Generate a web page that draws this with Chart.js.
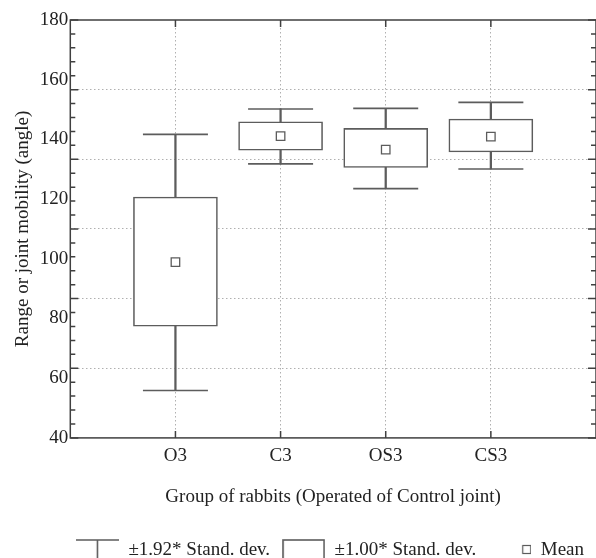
<!DOCTYPE html>
<html>
<head>
<meta charset="utf-8">
<script src="https://cdn.jsdelivr.net/npm/chart.js@4.4.0/dist/chart.umd.min.js"></script>
<style>
  html, body { margin: 0; padding: 0; background: #fff; }
  #contenedor { width: 596px; height: 558px; }
</style>
</head>
<body>
<div id="contenedor"><canvas id="grafico"></canvas></div>
<script>
// Datos (ángulo en grados)
const grupos = ['O3', 'C3', 'OS3', 'CS3'];
const medias = [98.9, 141.1, 136.6, 140.9];
const cajaInf = [77.4, 136.4, 130.6, 135.8];    // media - 1.00*DE
const cajaSup = [120.7, 145.9, 143.7, 146.8];   // media + 1.00*DE
const bigoteInf = [55.9, 131.8, 123.5, 130.1];  // media - 1.92*DE
const bigoteSup = [141.7, 150.2, 150.4, 152.4]; // media + 1.92*DE
const etiquetasY = [40, 60, 80, 100, 120, 140, 160, 180];

const FUENTE = "'Liberation Serif', 'Times New Roman', serif";
const GRIS = '#5c5c5c';
const MARCO = '#404040';

// Iconos para la leyenda
function iconoBigote() {
    const c = document.createElement('canvas');
    c.width = 43; c.height = 24;
    const g = c.getContext('2d');
    g.strokeStyle = GRIS; g.lineWidth = 1.6;
    g.beginPath();
    g.moveTo(0, 2); g.lineTo(43, 2);
    g.moveTo(21.5, 2); g.lineTo(21.5, 24);
    g.stroke();
    return c;
}
function iconoCaja() {
    const c = document.createElement('canvas');
    c.width = 43; c.height = 24;
    const g = c.getContext('2d');
    g.strokeStyle = GRIS; g.lineWidth = 1.6;
    g.strokeRect(1, 2, 41, 23);
    return c;
}
function iconoMedia() {
    const c = document.createElement('canvas');
    c.width = 43; c.height = 24;
    const g = c.getContext('2d');
    g.strokeStyle = GRIS; g.lineWidth = 1.2;
    g.strokeRect(34.5, 7.5, 8, 8);
    return c;
}
const leyenda = [
    { text: '±1.92* Stand. dev.', icono: iconoBigote() },
    { text: '±1.00* Stand. dev.', icono: iconoCaja() },
    { text: 'Mean', icono: iconoMedia() }
];

// Marco de la gráfica con marcas interiores (como en la figura original)
const marco = {
    id: 'marco',
    afterDraw(chart) {
        const { ctx, chartArea: a, scales } = chart;
        const y2 = scales.y2, x = scales.x;
        ctx.save();
        ctx.strokeStyle = MARCO;
        ctx.lineWidth = 1.5;
        ctx.strokeRect(a.left, a.top, a.right - a.left, a.bottom - a.top);
        ctx.beginPath();
        for (let t = 0; t <= 30; t++) {
            const py = y2.getPixelForValue(t);
            const largo = t % 5 === 0 ? 8 : 5;
            ctx.moveTo(a.left, py); ctx.lineTo(a.left + largo, py);
            ctx.moveTo(a.right, py); ctx.lineTo(a.right - largo, py);
        }
        grupos.forEach((g, i) => {
            const px = x.getPixelForValue(i + 1);
            ctx.moveTo(px, a.top); ctx.lineTo(px, a.top + 7);
            ctx.moveTo(px, a.bottom); ctx.lineTo(px, a.bottom - 7);
        });
        ctx.stroke();
        ctx.restore();
    }
};

const ctx = document.getElementById('grafico');
new Chart(ctx, {
    type: 'bar',
    data: {
        datasets: [
            {
                // línea vertical del bigote
                type: 'bar',
                data: grupos.map((g, i) => ({ x: i + 1, y: [bigoteInf[i], bigoteSup[i]] })),
                backgroundColor: GRIS,
                borderWidth: 0,
                barThickness: 1.6,
                grouped: false,
                order: 3
            },
            {
                // extremos del bigote
                type: 'scatter',
                data: grupos.flatMap((g, i) => [{ x: i + 1, y: bigoteInf[i] }, { x: i + 1, y: bigoteSup[i] }]),
                pointStyle: 'line',
                pointRadius: 32.5,
                borderColor: GRIS,
                borderWidth: 1.6,
                order: 2
            },
            {
                // caja ±1.00 DE
                type: 'bar',
                data: grupos.map((g, i) => ({ x: i + 1, y: [cajaInf[i], cajaSup[i]] })),
                backgroundColor: '#ffffff',
                borderColor: GRIS,
                borderWidth: 1.6,
                borderSkipped: false,
                barThickness: 84,
                grouped: false,
                order: 1
            },
            {
                // media
                type: 'scatter',
                data: grupos.map((g, i) => ({ x: i + 1, y: medias[i] })),
                pointStyle: 'rect',
                pointRadius: 6,
                backgroundColor: '#ffffff',
                borderColor: GRIS,
                borderWidth: 1.3,
                order: 0
            }
        ]
    },
    options: {
        responsive: true,
        maintainAspectRatio: false,
        animation: false,
        layout: { autoPadding: false, padding: { top: 20, right: 0, bottom: -11.5, left: 0 } },
        scales: {
            x: {
                type: 'linear',
                min: 0,
                max: grupos.length + 1,
                offset: false,
                afterFit: s => { s.paddingLeft = 0; s.paddingRight = 0; },
                grid: {
                    offset: false,
                    drawTicks: false,
                    color: c => (c.tick && c.tick.value >= 1 && c.tick.value <= grupos.length) ? '#b0b0b0' : 'rgba(0,0,0,0)',
                    lineWidth: 1
                },
                border: { display: false, dash: [1.5, 2.5] },
                ticks: {
                    stepSize: 1,
                    autoSkip: false,
                    padding: 7,
                    color: '#222',
                    font: { family: FUENTE, size: 19 },
                    callback: v => grupos[v - 1] || ''
                },
                title: {
                    display: true,
                    text: 'Group of rabbits (Operated of Control joint)',
                    color: '#222',
                    font: { family: FUENTE, size: 19 },
                    padding: { top: 11, bottom: 20 }
                }
            },
            y: {
                min: etiquetasY[0],
                max: etiquetasY[etiquetasY.length - 1],
                grid: { display: false, drawTicks: false },
                border: { display: false },
                afterBuildTicks: s => { s.ticks = etiquetasY.map(v => ({ value: v })); },
                ticks: {
                    padding: 2,
                    color: '#222',
                    font: { family: FUENTE, size: 19 }
                },
                title: {
                    display: true,
                    text: 'Range or joint mobility (angle)',
                    color: '#222',
                    font: { family: FUENTE, size: 19 },
                    padding: { top: 12, bottom: 3 }
                }
            },
            y2: {
                // eje auxiliar para la rejilla punteada y las marcas del marco
                position: 'left',
                min: 0,
                max: 30,
                ticks: { display: false, stepSize: 1 },
                grid: {
                    drawTicks: false,
                    color: c => (c.tick && c.tick.value % 5 === 0 && c.tick.value > 0 && c.tick.value < 30) ? '#b0b0b0' : 'rgba(0,0,0,0)',
                    lineWidth: 1
                },
                border: { display: false, dash: [1.5, 2.5] }
            }
        },
        plugins: {
            tooltip: { enabled: false },
            legend: {
                position: 'bottom',
                align: 'end',
                onClick: null,
                labels: {
                    usePointStyle: true,
                    pointStyleWidth: 43,
                    padding: 12,
                    color: '#222',
                    font: { family: FUENTE, size: 19 },
                    generateLabels: () => leyenda.map(l => ({
                        text: l.text,
                        pointStyle: l.icono,
                        fontColor: '#222',
                        lineWidth: 0,
                        hidden: false
                    }))
                }
            }
        }
    },
    plugins: [marco]
});
</script>
</body>
</html>
